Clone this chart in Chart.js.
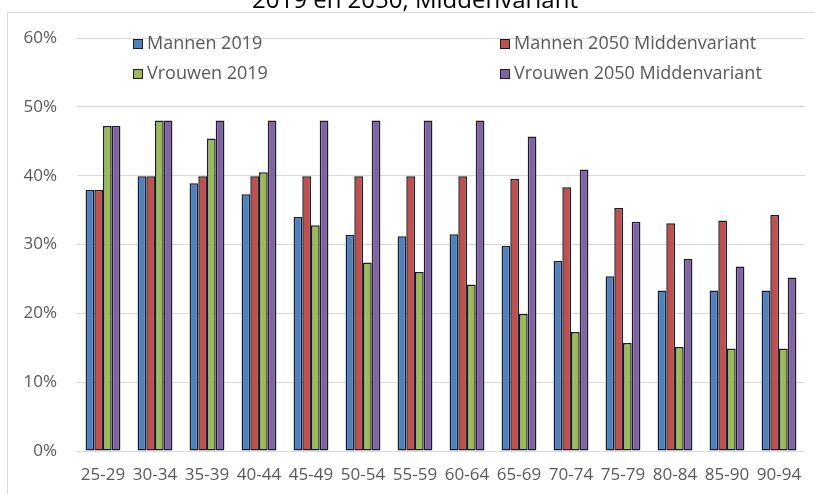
<!DOCTYPE html>
<html>
<head>
<meta charset="utf-8">
<script src="https://cdn.jsdelivr.net/npm/chart.js@4"></script>
<style>
  html, body { margin: 0; padding: 0; background: #fff; }
  #wrap { position: relative; width: 815px; height: 494px; }
</style>
</head>
<body>
<div id="wrap"><canvas id="chart" width="815" height="494"></canvas></div>
<script>
const categories = ["25-29", "30-34", "35-39", "40-44", "45-49", "50-54", "55-59",
  "60-64", "65-69", "70-74", "75-79", "80-84", "85-90", "90-94"];
const mannen2019 = [37.9, 39.9, 38.9, 37.3, 34.0, 31.4, 31.2, 31.5, 29.8, 27.6, 25.4, 23.3, 23.3, 23.3];
const mannen2050 = [37.9, 39.9, 39.9, 39.9, 39.9, 39.9, 39.9, 39.9, 39.5, 38.3, 35.3, 33.1, 33.5, 34.3];
const vrouwen2019 = [47.2, 48.0, 45.4, 40.5, 32.8, 27.4, 26.0, 24.2, 19.9, 17.3, 15.7, 15.1, 14.9, 14.9];
const vrouwen2050 = [47.2, 48.0, 48.0, 48.0, 48.0, 48.0, 48.0, 48.0, 45.7, 40.9, 33.3, 27.9, 26.8, 25.2];
const seriesNames = ["Mannen 2019", "Mannen 2050 Middenvariant", "Vrouwen 2019", "Vrouwen 2050 Middenvariant"];
const yTicks = [0, 10, 20, 30, 40, 50, 60];
const titleText = "2019 en 2050, Middenvariant";

const colors = ["#4f81bd", "#c0504d", "#9bbb59", "#8064a2"];
const FONT = "'Open Sans', sans-serif";
const GRAY = "#595959";

// frame line + cut-off title at the very top
const framePlugin = {
  id: "frame",
  beforeDraw(chart) {
    const ctx = chart.ctx;
    ctx.save();
    ctx.strokeStyle = "#d9d9d9";
    ctx.lineWidth = 1;
    ctx.beginPath();
    ctx.moveTo(7.5, 494);
    ctx.lineTo(7.5, 12.5);
    ctx.lineTo(815, 12.5);
    ctx.stroke();
    ctx.fillStyle = "#000";
    ctx.font = "24px " + FONT;
    ctx.textAlign = "center";
    ctx.textBaseline = "alphabetic";
    ctx.fillText(titleText, 415, 8);
    ctx.restore();
  }
};

// legend in two columns inside the plot area
const legendPlugin = {
  id: "insideLegend",
  afterDraw(chart) {
    const ctx = chart.ctx;
    const cols = [133, 500];
    const rows = [44, 74];
    ctx.save();
    ctx.font = "18px " + FONT;
    ctx.textBaseline = "middle";
    ctx.textAlign = "left";
    chart.data.datasets.forEach((ds, i) => {
      const x = cols[i % 2];
      const y = rows[Math.floor(i / 2)];
      ctx.fillStyle = ds.backgroundColor;
      ctx.fillRect(x, y - 5, 10, 10);
      ctx.strokeStyle = "#1c1c2c";
      ctx.lineWidth = 1;
      ctx.strokeRect(x + 0.5, y - 4.5, 9, 9);
      ctx.fillStyle = GRAY;
      ctx.fillText(ds.label, x + 14, y);
    });
    ctx.restore();
  }
};

const seriesData = [mannen2019, mannen2050, vrouwen2019, vrouwen2050];

new Chart(document.getElementById("chart"), {
  type: "bar",
  data: {
    labels: categories,
    datasets: seriesData.map((d, i) => ({
      label: seriesNames[i],
      data: d,
      backgroundColor: colors[i],
      borderColor: "#1c1c2c",
      borderWidth: 1.5,
      borderSkipped: false,
      categoryPercentage: 0.67,
      barPercentage: 1.0,
    })),
  },
  options: {
    responsive: false,
    animation: false,
    events: [],
    layout: { padding: { top: 38, right: 10, left: 0, bottom: 0 } },
    plugins: {
      legend: { display: false },
      tooltip: { enabled: false },
      title: { display: false },
    },
    scales: {
      x: {
        grid: { display: false },
        border: { display: false },
        ticks: { color: GRAY, font: { family: FONT, size: 17 }, maxRotation: 0, autoSkip: false, padding: 6 },
        afterFit: (s) => { s.height = 43; },
      },
      y: {
        min: 0,
        max: 60,
        afterBuildTicks: (s) => { s.ticks = yTicks.map((v) => ({ value: v })); },
        grid: { color: "#d9d9d9", lineWidth: 1, drawTicks: false },
        border: { display: false },
        ticks: {
          color: GRAY,
          font: { family: FONT, size: 17 },
          padding: 20,
          callback: (v) => v + "%",
        },
        afterFit: (s) => { s.width = 77; },
      },
    },
  },
  plugins: [framePlugin, legendPlugin],
});
</script>
</body>
</html>
